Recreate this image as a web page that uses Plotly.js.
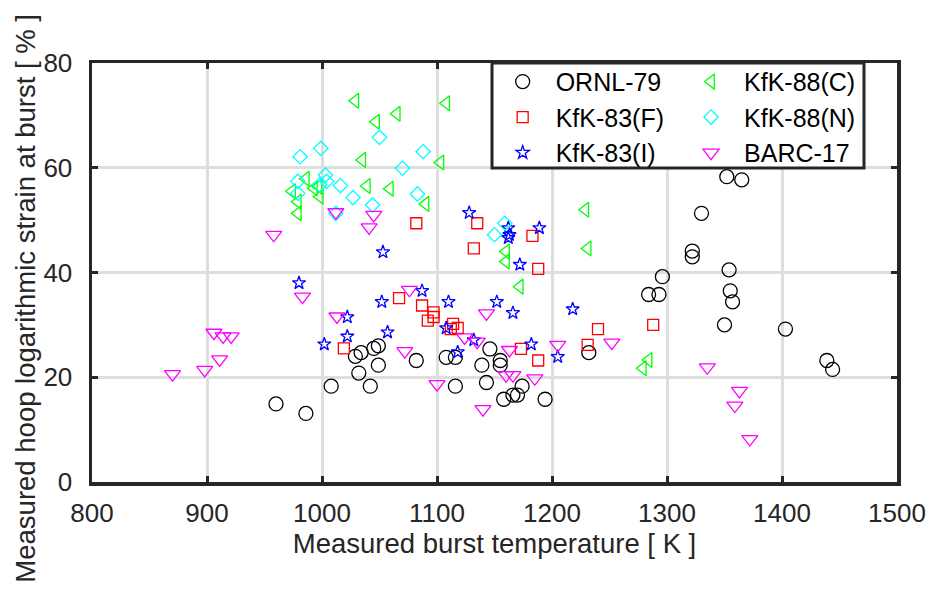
<!DOCTYPE html>
<html>
<head>
<meta charset="utf-8">
<script src="https://cdn.plot.ly/plotly-3.0.1.min.js"></script>
<style>html,body{margin:0;padding:0;background:#fff;}#chart{width:931px;height:590px;}</style>
</head>
<body>
<div id="chart"></div>
<script>
// ORNL-79
const ornlX = [960,986,1008,1032,1029,1034,1045,1049,1049,1042,1082,1108,1116,1116,1146,1139,1155,1155,1143,1158,1166,1170,1174,1194,1232,1284,1293,1296,1322,1322,1330,1352,1365,1354,1355,1357,1350,1403,1439,1444];
const ornlY = [14.9,13.1,18.3,20.8,24.0,24.7,25.5,26.0,22.3,18.3,23.2,23.8,23.8,18.3,25.4,22.3,23.2,22.3,19.0,15.8,16.6,16.6,18.3,15.8,24.7,35.8,35.8,39.2,44.1,43.0,51.3,58.3,57.7,40.5,36.5,34.4,30.0,29.2,23.2,21.5];
// KfK-83(F)
const kfk83fX = [1019,1067,1087,1097,1097,1092,1114,1118,1112,1173,1188,1188,1240,1231,1288,1082,1135,1132,1183];
const kfk83fY = [25.5,35.1,33.7,32.4,31.5,30.8,30.2,29.4,29.2,25.4,23.2,40.7,29.2,26.2,30.0,49.4,49.4,44.6,47.0];
// KfK-83(I)
const kfk83iX = [980,1022,1022,1002,1052,1087,1110,1057,1108,1118,1132,1152,1166,1182,1205,1218,1172,1053,1128,1162,1163,1162,1189];
const kfk83iY = [38.0,31.5,27.8,26.3,34.4,36.5,34.4,28.6,29.4,24.8,27.1,34.4,32.3,26.3,23.9,33.0,41.5,43.9,51.4,48.5,47.2,46.6,48.5];
// KfK-88(C)
const kfk88cX = [1029,1035,1039,986,974,979,979,993,997,998,1108,1065,1047,1103,1059,1090,1160,1160,1229,1231,1172,1284,1279];
const kfk88cY = [72.8,61.5,56.5,57.9,55.5,53.5,51.3,56.1,56.4,54.5,72.3,70.3,68.8,61.0,56.0,53.1,44.0,42.1,52.0,44.6,37.3,23.3,21.7];
// KfK-88(N)
const kfk88nX = [981,999,979,1003,1004,1016,1027,1044,1050,1012,979,998,1088,1070,1083,1150,1159];
const kfk88nY = [62.1,63.7,57.4,58.6,57.4,56.6,54.3,52.9,65.8,51.3,55.1,56.7,63.1,59.9,55.0,47.2,49.4];
// BARC-17
const barcX = [958,1012,1041,1045,983,1013,906,914,921,911,898,870,1076,1072,1100,1143,1124,1135,1163,1160,1166,1185,1140,1205,1252,1335,1363,1359,1372];
const barcY = [47.2,51.5,48.6,51.0,35.4,31.6,28.5,27.8,27.8,23.4,21.4,20.6,36.7,25.0,18.7,32.2,27.6,26.8,25.2,20.4,20.4,19.8,13.9,26.2,26.6,21.9,17.4,14.6,8.2];

const seriesNames = ['ORNL-79','KfK-83(F)','KfK-83(I)','KfK-88(C)','KfK-88(N)','BARC-17'];
const xTitle = 'Measured burst temperature [ K ]';
const yTitle = 'Measured hoop logarithmic strain at burst [ % ]';
const FONT = 'Liberation Sans, Arial, Helvetica, sans-serif';

function tr(x, y, name, symbol, color, size, legendId) {
  return {
    type: 'scatter', mode: 'markers', x: x, y: y, name: name,
    legend: legendId,
    marker: {symbol: symbol, size: size, color: color, line: {color: color, width: 1.3}},
    cliponaxis: false
  };
}

const data = [
  tr(ornlX, ornlY, seriesNames[0], 'circle-open', '#000000', 14, 'legend'),
  tr(kfk83fX, kfk83fY, seriesNames[1], 'square-open', '#ff0000', 11, 'legend'),
  tr(kfk83iX, kfk83iY, seriesNames[2], 'star-open', '#0000ff', 10, 'legend'),
  tr(kfk88cX, kfk88cY, seriesNames[3], 'triangle-left-open', '#00ff00', 13, 'legend2'),
  tr(kfk88nX, kfk88nY, seriesNames[4], 'diamond-open', '#00ffff', 11, 'legend2'),
  tr(barcX, barcY, seriesNames[5], 'triangle-down-open', '#ff00ff', 14, 'legend2')
];

const axisCommon = {
  showline: true, linecolor: '#262626', linewidth: 3.5, mirror: 'ticks',
  ticks: 'inside', ticklen: 6, tickwidth: 3, tickcolor: '#262626',
  showgrid: true, gridcolor: '#dedede', gridwidth: 3,
  zeroline: false,
  tickfont: {family: FONT, size: 26, color: '#262626'}
};

const legendCommon = {
  orientation: 'v', y: 1.01, xanchor: 'left', yanchor: 'top',
  itemwidth: 56, bgcolor: 'rgba(0,0,0,0)', borderwidth: 0,
  font: {family: FONT, size: 25, color: '#000000'},
  traceorder: 'normal'
};

const layout = {
  width: 931, height: 590,
  margin: {l: 92, r: 34, t: 63, b: 108},
  paper_bgcolor: '#ffffff', plot_bgcolor: '#ffffff',
  font: {family: FONT, color: '#262626'},
  showlegend: true,
  xaxis: Object.assign({}, axisCommon, {
    range: [800, 1500], dtick: 100, tick0: 800, ticklabelstandoff: 5,
    title: {text: xTitle, font: {family: FONT, size: 27.5, color: '#262626'}, standoff: 6}
  }),
  yaxis: Object.assign({}, axisCommon, {
    range: [0, 80], dtick: 20, tick0: 0, ticklabelstandoff: 11
  }),
  annotations: [{
    text: yTitle, textangle: -90, showarrow: false,
    xref: 'paper', yref: 'paper', x: -0.082, y: 0.44,
    xanchor: 'center', yanchor: 'middle',
    font: {family: FONT, size: 27.5, color: '#262626'}
  }],
  shapes: [{
    type: 'rect', xref: 'paper', yref: 'paper', layer: 'above',
    x0: 0.4969, x1: 0.959, y0: 0.7494, y1: 1.0,
    fillcolor: '#ffffff', line: {color: '#262626', width: 3}
  }],
  legend: Object.assign({}, legendCommon, {x: 0.494}),
  legend2: Object.assign({}, legendCommon, {x: 0.728})
};

Plotly.newPlot('chart', data, layout, {displayModeBar: false, staticPlot: true});
</script>
</body>
</html>
